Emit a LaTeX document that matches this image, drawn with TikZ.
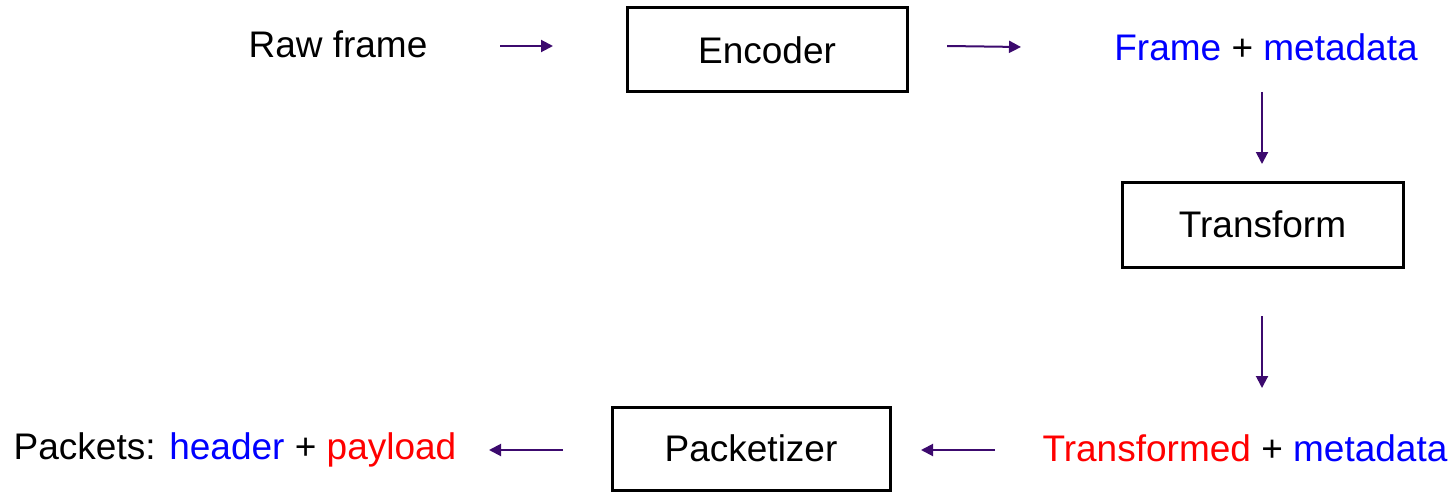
\documentclass[tikz,border=0pt]{standalone}
\usepackage{fontspec}
\setmainfont{Liberation Sans}
\usetikzlibrary{arrows.meta}
\definecolor{arr}{RGB}{60,10,110}
\definecolor{tblue}{RGB}{0,0,255}
\definecolor{tred}{RGB}{255,0,0}
\begin{document}
\begin{tikzpicture}[x=0.5pt,y=-0.5pt,
  lbl/.style={font=\fontsize{18.5}{22}\selectfont, inner sep=0pt, anchor=center},
  boxnode/.style={draw=black, line width=1.5pt, font=\fontsize{18.5}{22}\selectfont, inner sep=0pt},
  flow/.style={draw=arr, line width=1pt, -{Triangle[length=6pt,width=6pt]}}]
\useasboundingbox (0,0) rectangle (1455,492);
% nodes
\node[lbl] (raw) at (338,44) {Raw frame};
\node[boxnode, minimum width=140pt, minimum height=42pt] (enc) at (767,50) {Encoder};
\node[lbl] (fm) at (1266,47) {\textcolor{tblue}{Frame} + \textcolor{tblue}{metadata}};
\node[boxnode, minimum width=140.5pt, minimum height=42.5pt] (tr) at (1262.5,224.5) {Transform};
\node[lbl] (tm) at (1245,448) {\textcolor{tred}{Transformed} + \textcolor{tblue}{metadata}};
\node[boxnode, minimum width=139pt, minimum height=41.5pt] (pk) at (751,448.5) {Packetizer};
\node[lbl] (pp) at (235,450) {Packets: \textcolor{tblue}{header} + \textcolor{tred}{payload}};
% arrow endpoints
\coordinate (a1s) at (500,46); \coordinate (a1e) at (553,46);
\coordinate (a2s) at (947,46); \coordinate (a2e) at (1021,47);
\coordinate (a3s) at (1262,92); \coordinate (a3e) at (1262,164);
\coordinate (a4s) at (1262,316); \coordinate (a4e) at (1262,388);
\coordinate (a5s) at (995,450); \coordinate (a5e) at (921,450);
\coordinate (a6s) at (563,450); \coordinate (a6e) at (489,450);
\draw[flow] (a1s) -- (a1e);
\draw[flow] (a2s) -- (a2e);
\draw[flow] (a3s) -- (a3e);
\draw[flow] (a4s) -- (a4e);
\draw[flow] (a5s) -- (a5e);
\draw[flow] (a6s) -- (a6e);
\end{tikzpicture}
\end{document}
